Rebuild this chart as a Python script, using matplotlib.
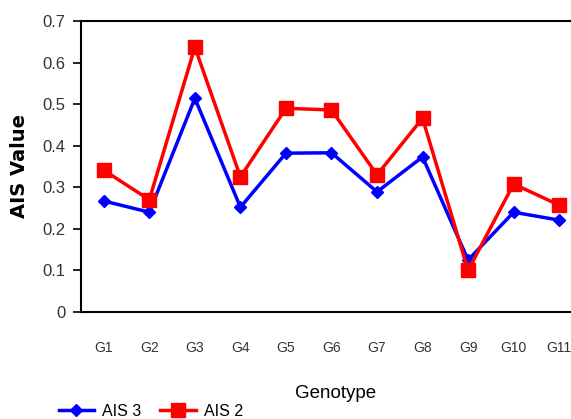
import matplotlib
matplotlib.use("Agg")
import matplotlib.pyplot as plt

genotypes = ["G1", "G2", "G3", "G4", "G5", "G6", "G7", "G8", "G9", "G10", "G11"]
ais3 = [0.267, 0.240, 0.514, 0.252, 0.382, 0.383, 0.289, 0.373, 0.125, 0.240, 0.221]
ais2 = [0.341, 0.270, 0.637, 0.325, 0.490, 0.486, 0.330, 0.466, 0.100, 0.308, 0.257]
yticks = [0, 0.1, 0.2, 0.3, 0.4, 0.5, 0.6, 0.7]
ytick_labels = ["0", "0.1", "0.2", "0.3", "0.4", "0.5", "0.6", "0.7"]

narrow = ["Liberation Sans", "DejaVu Sans"]

fig = plt.figure(figsize=(5.71, 4.19), dpi=100)
ax = fig.add_axes([0.1419, 0.2554, 0.8581, 0.6945])

x = list(range(len(genotypes)))
l3, = ax.plot(x, ais3, color="#0000ff", lw=2.5, marker="D", ms=6, label="AIS 3")
l2, = ax.plot(x, ais2, color="#ff0000", lw=2.5, marker="s", ms=10, label="AIS 2")

ax.set_xlim(-0.5, 10.26)
ax.set_ylim(0, 0.7)
ax.set_yticks(yticks)
ax.set_yticklabels(ytick_labels, family=narrow, fontsize=12, color="#333333")
ax.set_xticks(x)
ax.set_xticklabels(genotypes, family=narrow, fontsize=10, color="#333333")
ax.tick_params(axis="x", length=0, pad=21)
ax.tick_params(axis="y", length=6, width=1.2, direction="out", pad=5)

ax.spines["right"].set_visible(False)
for s in ["left", "bottom", "top"]:
    ax.spines[s].set_linewidth(1.5)
    ax.spines[s].set_color("black")

ax.set_ylabel("AIS Value", fontsize=14, fontweight="bold", labelpad=10)
fig.text(0.588, 0.062, "Genotype", family=narrow, fontsize=13.5, ha="center", va="center")

fig.legend(handles=[l3, l2], loc="center left", bbox_to_anchor=(0.092, 0.018),
           ncol=2, frameon=False, prop={"family": narrow, "size": 11.5},
           handlelength=2.2, columnspacing=1.2, handletextpad=0.5, borderaxespad=0)

fig.savefig("out.png", dpi=100)
